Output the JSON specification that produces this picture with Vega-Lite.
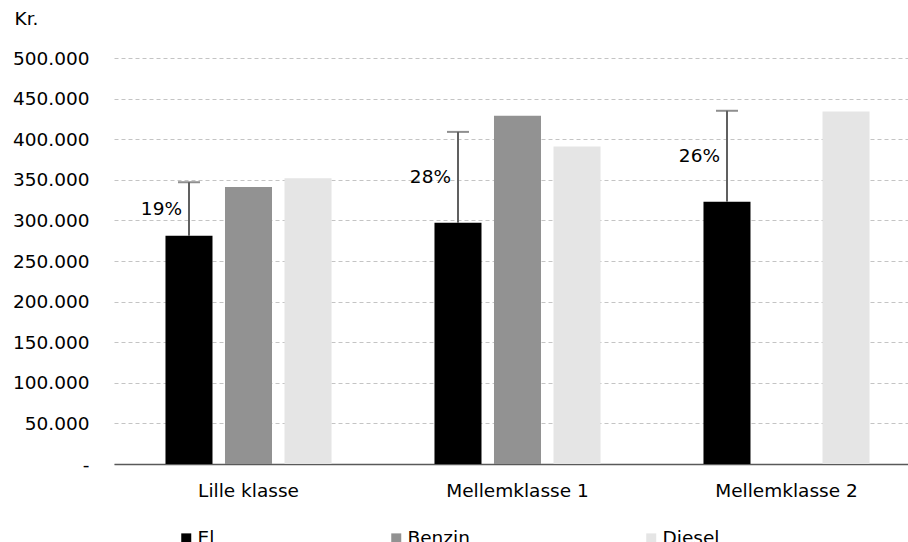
{
  "$schema": "https://vega.github.io/schema/vega-lite/v6.json",
  "width": 807,
  "height": 406,
  "autosize": {"type": "none"},
  "padding": {"left": 114, "top": 58, "right": 0, "bottom": 78},
  "config": {"view": {"stroke": null}, "font": "DejaVu Sans"},
  "datasets": {
    "bars": [
      {"klasse": "Lille klasse", "drivmiddel": "El", "pris": 281000},
      {"klasse": "Lille klasse", "drivmiddel": "Benzin", "pris": 341000},
      {"klasse": "Lille klasse", "drivmiddel": "Diesel", "pris": 352000},
      {"klasse": "Mellemklasse 1", "drivmiddel": "El", "pris": 297000},
      {"klasse": "Mellemklasse 1", "drivmiddel": "Benzin", "pris": 429000},
      {"klasse": "Mellemklasse 1", "drivmiddel": "Diesel", "pris": 391000},
      {"klasse": "Mellemklasse 2", "drivmiddel": "El", "pris": 323000},
      {"klasse": "Mellemklasse 2", "drivmiddel": "Diesel", "pris": 434000}
    ],
    "forskel": [
      {"klasse": "Lille klasse", "drivmiddel": "El", "lav": 281000, "hoej": 347000, "tekst": "19%"},
      {"klasse": "Mellemklasse 1", "drivmiddel": "El", "lav": 297000, "hoej": 409000, "tekst": "28%"},
      {"klasse": "Mellemklasse 2", "drivmiddel": "El", "lav": 323000, "hoej": 435000, "tekst": "26%"}
    ]
  },
  "layer": [
    {
      "data": {"name": "bars"},
      "mark": {"type": "bar"},
      "encoding": {
        "x": {
          "field": "klasse", "type": "nominal",
          "scale": {"paddingInner": 0, "paddingOuter": 0},
          "axis": {"title": null, "labelAngle": 0, "labelFontSize": 18.5, "labelColor": "#000000", "ticks": false, "labelPadding": 17, "domainColor": "#595959", "domainWidth": 1.5}
        },
        "xOffset": {
          "field": "drivmiddel", "type": "nominal",
          "scale": {"domain": ["El", "Benzin", "Diesel"], "paddingInner": 0.21, "paddingOuter": 0.865}
        },
        "y": {
          "field": "pris", "type": "quantitative",
          "scale": {"domain": [0, 500000], "nice": false},
          "axis": {
            "title": "Kr.", "titleAngle": 0, "titleAlign": "left", "titleBaseline": "middle", "titleX": -100, "titleY": -40,
            "titleFontSize": 18.5, "titleFontWeight": "normal", "titleColor": "#000000",
            "values": [0, 50000, 100000, 150000, 200000, 250000, 300000, 350000, 400000, 450000, 500000],
            "labelExpr": "datum.value == 0 ? '-' : replace(format(datum.value, ','), ',', '.')",
            "labelFontSize": 18.5, "labelColor": "#000000", "labelPadding": 25,
            "domain": false, "ticks": false,
            "grid": true, "gridDash": [4, 3], "gridColor": "#c4c4c4", "gridWidth": 1
          }
        },
        "color": {
          "field": "drivmiddel", "type": "nominal",
          "scale": {"domain": ["El", "Benzin", "Diesel"], "range": ["#000000", "#929292", "#e5e5e5"]},
          "legend": {
            "title": null, "orient": "none", "direction": "horizontal", "columns": 3,
            "legendX": 63, "legendY": 471,
            "symbolType": "square", "symbolSize": 100, "symbolStrokeWidth": 0, "symbolOpacity": 1,
            "labelFontSize": 18.5, "labelColor": "#000000", "labelOffset": 2,
            "columnPadding": 172, "gridAlign": "each"
          }
        }
      }
    },
    {
      "data": {"name": "forskel"},
      "mark": {"type": "rule", "color": "#606060", "strokeWidth": 2},
      "encoding": {
        "x": {"field": "klasse", "type": "nominal"},
        "xOffset": {"field": "drivmiddel", "type": "nominal"},
        "y": {"field": "lav", "type": "quantitative"},
        "y2": {"field": "hoej"}
      }
    },
    {
      "data": {"name": "forskel"},
      "mark": {"type": "tick", "color": "#606060", "thickness": 2, "size": 22, "orient": "horizontal"},
      "encoding": {
        "x": {"field": "klasse", "type": "nominal"},
        "xOffset": {"field": "drivmiddel", "type": "nominal"},
        "y": {"field": "hoej", "type": "quantitative"}
      }
    },
    {
      "data": {"name": "forskel"},
      "transform": [{"calculate": "(datum.lav + datum.hoej) / 2", "as": "midt"}],
      "mark": {"type": "text", "align": "right", "baseline": "middle", "dx": -7, "fontSize": 18.5, "color": "#000000"},
      "encoding": {
        "x": {"field": "klasse", "type": "nominal"},
        "xOffset": {"field": "drivmiddel", "type": "nominal"},
        "y": {"field": "midt", "type": "quantitative"},
        "text": {"field": "tekst"}
      }
    }
  ]
}
